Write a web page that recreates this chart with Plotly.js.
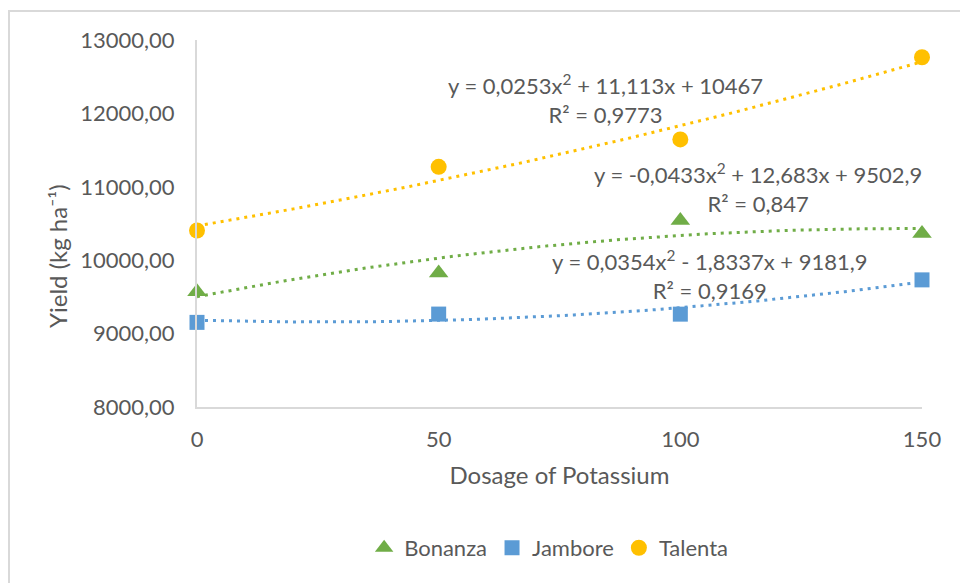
<!DOCTYPE html>
<html>
<head>
<meta charset="utf-8">
<script src="https://cdn.plot.ly/plotly-3.0.1.min.js"></script>
<style>
  html, body { margin: 0; padding: 0; background: #ffffff; overflow: hidden; }
  #chart { width: 960px; height: 583px; }
</style>
</head>
<body>
<div id="chart"></div>
<script>
// ---- Data ----
const dose = [0, 50, 100, 150];
const bonanza = [9571, 9825, 10542, 10363];
const jambore = [9153, 9266, 9265, 9732];
const talenta = [10405, 11272, 11645, 12765];

const seriesNames = ['Bonanza', 'Jambore', 'Talenta'];
const eqBonanza = 'y = -0,0433x<sup>2</sup> + 12,683x + 9502,9<br>R² = 0,847';
const eqJambore = 'y = 0,0354x<sup>2</sup> - 1,8337x + 9181,9<br>R² = 0,9169';
const eqTalenta = 'y = 0,0253x<sup>2</sup> + 11,113x + 10467<br>R² = 0,9773';
const xTitle = 'Dosage of Potassium';
const yTitle = 'Yield (kg ha⁻¹)';

// ---- Styles ----
const FONT = 'Lato, "Liberation Sans", sans-serif';
const TXT = '#595959';
const AXIS = '#d9d9d9';
const colBonanza = '#70AD47';
const colJambore = '#5B9BD5';
const colTalenta = '#FFC000';

// Least-squares quadratic trendline (as a spreadsheet trendline does)
function quadFit(xs, ys) {
  let S = [0,0,0,0,0], T = [0,0,0];
  for (let i = 0; i < xs.length; i++) {
    let p = 1;
    for (let k = 0; k < 5; k++) { S[k] += p; p *= xs[i]; }
    p = 1;
    for (let k = 0; k < 3; k++) { T[k] += ys[i] * p; p *= xs[i]; }
  }
  const A = [[S[0],S[1],S[2],T[0]],[S[1],S[2],S[3],T[1]],[S[2],S[3],S[4],T[2]]];
  for (let c = 0; c < 3; c++) {
    for (let r = c + 1; r < 3; r++) {
      const f = A[r][c] / A[c][c];
      for (let k = c; k < 4; k++) A[r][k] -= f * A[c][k];
    }
  }
  const coef = [0,0,0];
  for (let r = 2; r >= 0; r--) {
    let s = A[r][3];
    for (let k = r + 1; k < 3; k++) s -= A[r][k] * coef[k];
    coef[r] = s / A[r][r];
  }
  return coef; // c0 + c1 x + c2 x^2
}
function trend(xs, ys) {
  const c = quadFit(xs, ys);
  const gx = [], gy = [];
  const x0 = Math.min(...xs), x1 = Math.max(...xs);
  for (let x = x0; x <= x1 + 1e-9; x += 2) { gx.push(x); gy.push(c[0] + c[1]*x + c[2]*x*x); }
  return {x: gx, y: gy};
}

const tB = trend(dose, bonanza), tJ = trend(dose, jambore), tT = trend(dose, talenta);
const dotLine = (col) => ({color: col, width: 3, dash: '3px,5px'});

const traces = [
  {x: tB.x, y: tB.y, mode: 'lines', line: dotLine(colBonanza), showlegend: false, hoverinfo: 'skip'},
  {x: tJ.x, y: tJ.y, mode: 'lines', line: dotLine(colJambore), showlegend: false, hoverinfo: 'skip'},
  {x: tT.x, y: tT.y, mode: 'lines', line: dotLine(colTalenta), showlegend: false, hoverinfo: 'skip'},
  {x: dose, y: bonanza, name: seriesNames[0], mode: 'markers', cliponaxis: false,
   marker: {symbol: 'triangle-up', size: 17, color: colBonanza}},
  {x: dose, y: jambore, name: seriesNames[1], mode: 'markers', cliponaxis: false,
   marker: {symbol: 'square', size: 15, color: colJambore}},
  {x: dose, y: talenta, name: seriesNames[2], mode: 'markers', cliponaxis: false,
   marker: {symbol: 'circle', size: 16, color: colTalenta}}
];

const layout = {
  width: 960, height: 583,
  margin: {l: 197, r: 38, t: 40, b: 176},
  paper_bgcolor: '#ffffff', plot_bgcolor: '#ffffff',
  separators: ',.',
  font: {family: FONT, size: 22, color: TXT},
  showlegend: true,
  xaxis: {
    range: [0, 150], tickvals: dose, ticktext: dose.map(String),
    showline: true, linecolor: AXIS, linewidth: 2,
    showgrid: false, zeroline: false,
    ticks: 'outside', ticklen: 12, tickcolor: 'rgba(0,0,0,0)',
    tickfont: {family: FONT, size: 22, color: TXT},
    title: {text: xTitle, font: {family: FONT, size: 24, color: TXT}, standoff: 16},
    fixedrange: true
  },
  yaxis: {
    range: [8000, 13000], dtick: 1000, tick0: 8000, tickformat: '.2f',
    showline: true, linecolor: AXIS, linewidth: 2,
    showgrid: false, zeroline: false,
    ticks: 'outside', ticklen: 16, tickcolor: 'rgba(0,0,0,0)',
    tickfont: {family: FONT, size: 22, color: TXT},
    fixedrange: true
  },
  legend: {
    orientation: 'h', x: 0.485, xanchor: 'center', y: -0.384, yanchor: 'middle',
    font: {family: FONT, size: 22, color: TXT}, bgcolor: 'rgba(0,0,0,0)'
  },
  annotations: [
    {xref: 'paper', yref: 'paper', x: -0.1931, y: 0.4114, text: yTitle, showarrow: false, textangle: -90,
     xanchor: 'center', yanchor: 'middle', font: {family: FONT, size: 24, color: TXT}},
    {xref: 'paper', yref: 'paper', x: 0.5628, y: 0.8392, text: eqTalenta, showarrow: false,
     align: 'center', xanchor: 'center', yanchor: 'middle', font: {family: FONT, size: 22, color: TXT}},
    {xref: 'paper', yref: 'paper', x: 0.7738, y: 0.5954, text: eqBonanza, showarrow: false,
     align: 'center', xanchor: 'center', yanchor: 'middle', font: {family: FONT, size: 22, color: TXT}},
    {xref: 'paper', yref: 'paper', x: 0.7076, y: 0.3597, text: eqJambore, showarrow: false,
     align: 'center', xanchor: 'center', yanchor: 'middle', font: {family: FONT, size: 22, color: TXT}}
  ],
  shapes: [
    {type: 'rect', xref: 'paper', yref: 'paper', x0: -0.2593, x1: 1.2, y0: -0.8, y1: 1.079,
     line: {color: AXIS, width: 2}, fillcolor: 'rgba(0,0,0,0)', layer: 'below'}
  ]
};

Plotly.newPlot('chart', traces, layout, {displayModeBar: false, staticPlot: true});
</script>
</body>
</html>
